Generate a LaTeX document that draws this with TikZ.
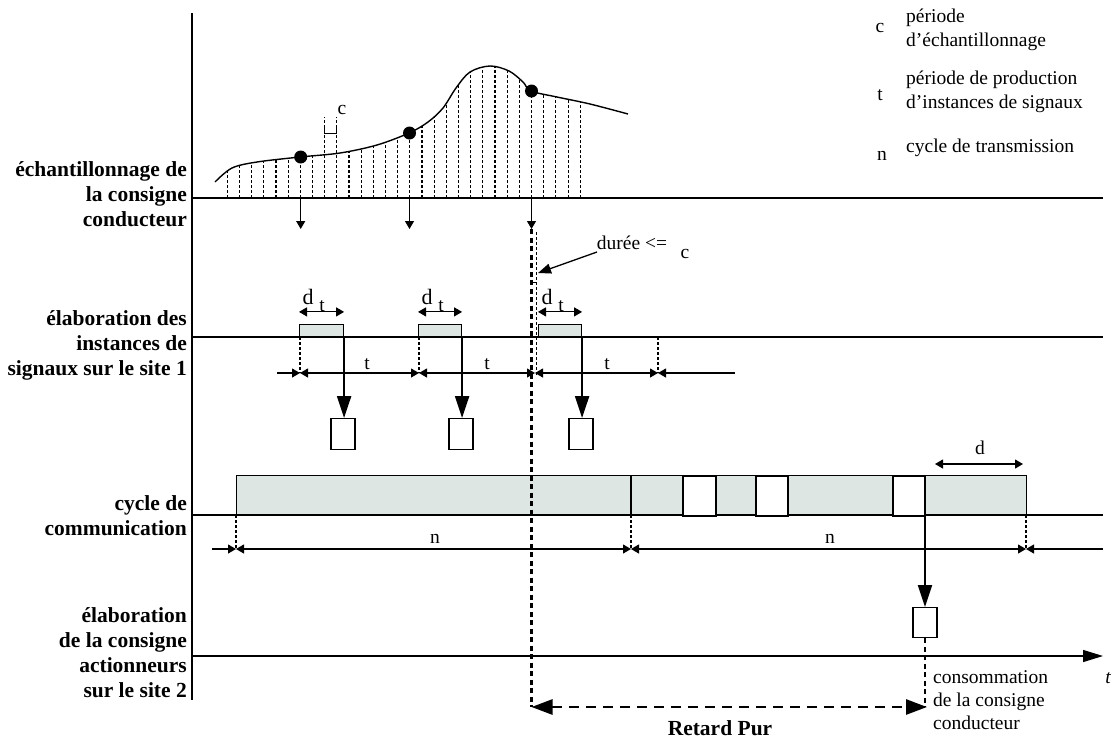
\documentclass[tikz,border=0pt]{standalone}
\usepackage{fontspec}
\setmainfont{Liberation Serif}
\usetikzlibrary{arrows.meta}
\definecolor{barfill}{RGB}{222,230,228}
\begin{document}
\begin{tikzpicture}[x=1pt,y=-1pt,
  tri/.tip={Triangle[length=8pt,width=9pt]},
  bigtri/.tip={Triangle[length=22pt,width=14pt]},
  axtri/.tip={Triangle[length=20pt,width=12pt]},
  rtri/.tip={Triangle[length=21pt,width=15pt]},
  axisln/.style={line width=1.3pt},
  dimln/.style={line width=1.1pt},
  dotln/.style={line width=1.1pt, dash pattern=on 3pt off 2pt},
  thickdash/.style={line width=2.5pt, dash pattern=on 5pt off 3.5pt},
  thickarrow/.style={line width=2.2pt, -bigtri},
  lbl/.style={font=\fontsize{21.5}{25}\selectfont\bfseries, align=right, anchor=east, inner sep=0pt},
  txt/.style={font=\fontsize{19.5}{23.5}\selectfont, inner sep=0pt},
  greybox/.style={draw=black, line width=1.1pt, fill=barfill, inner sep=0pt, anchor=south west},
  whitebox/.style={draw=black, line width=1.3pt, fill=white, inner sep=0pt},
  slotframe/.style={draw=black, line width=1.4pt, fill=white},
  dot/.style={circle, fill=black, minimum size=13pt, inner sep=0pt}
]
\useasboundingbox (0,0) rectangle (1113,740);

% axes and level lines
\draw[axisln] (192,13) -- (192,700);
\draw[axisln] (192,198) -- (1103,198);
\draw[axisln] (192,337) -- (1103,337);
\draw[axisln] (192,515) -- (1103,515);
\coordinate (tstart) at (192,656);
\coordinate (tend) at (1103,656);
\draw[axisln, -axtri] (tstart) -- (tend);
\node[txt, font=\fontsize{19.5}{23}\selectfont\itshape] (tlab) at (1108,678) {t};

% row labels
\node[lbl] (lab1) at (187,194) {échantillonnage de\\la consigne\\conducteur};
\node[lbl] (lab2) at (187,345) {élaboration des\\instances de\\signaux sur le site 1};
\node[lbl] (lab3) at (187,515.5) {cycle de\\communication};
\node[lbl] (lab4) at (187,653) {élaboration\\de la consigne\\actionneurs\\sur le site 2};

% legend
\node[txt] (lc) at (880,28) {c};
\node[txt, anchor=west, align=left] (lct) at (906,30) {période\\d'échantillonnage};
\node[txt] (lt) at (880,95) {t};
\node[txt, anchor=west, align=left] (ltt) at (906,92) {période de production\\d'instances de signaux};
\node[txt] (ln) at (882,156) {n};
\node[txt, anchor=west] (lnt) at (906,148) {cycle de transmission};

% sampled signal
\def\curvepts{(215,182) (232,168) (257,162) (300,157) (340,153) (377,145) (409,133) (428,122) (443,108) (456,88) (470,72) (490,66) (509,71) (523,82) (531,91) (557,97) (590,104) (628,114)}
\begin{scope}
  \clip plot[smooth, tension=0.55] coordinates {\curvepts} -- (628,198) -- (215,198) -- cycle;
  \foreach \k in {0,...,7,10,11,...,29}
    \draw[dotln] ({227.3+12.17*\k},198) -- ({227.3+12.17*\k},40);
\end{scope}
\draw[dotln] (324.7,198) -- (324.7,117);
\draw[dotln] (336.8,198) -- (336.8,117);
\draw[line width=1pt] (324.7,127) -- (324.7,133) -- (336.8,133) -- (336.8,127);
\node[txt] (cc) at (342,110) {c};
\draw[line width=1.4pt] plot[smooth, tension=0.55] coordinates {\curvepts};
\node[dot] (p1) at (300.7,157) {};
\node[dot] (p2) at (409.5,133) {};
\node[dot] (p3) at (531.5,91) {};
\coordinate (a1) at (300.7,229);
\coordinate (a2) at (409.5,229);
\coordinate (a3) at (531.5,229);
\draw[dimln, -tri] (p1 |- 0,198) -- (a1);
\draw[dimln, -tri] (p2 |- 0,198) -- (a2);
\draw[dimln, -tri] (p3 |- 0,198) -- (a3);

% level 2 : signal instances
\node[greybox, minimum width=44pt, minimum height=12pt] (g1) at (299,337) {};
\node[greybox, minimum width=43pt, minimum height=12pt] (g2) at (418,337) {};
\node[greybox, minimum width=43pt, minimum height=12pt] (g3) at (538,337) {};
\node[whitebox, minimum width=24pt, minimum height=31pt, anchor=north] (s1) at (343,418) {};
\node[whitebox, minimum width=24pt, minimum height=31pt, anchor=north] (s2) at (461,418) {};
\node[whitebox, minimum width=24pt, minimum height=31pt, anchor=north] (s3) at (581,418) {};
\draw[thickarrow] (g1.south east) -- (g1.south east |- s1.north);
\draw[thickarrow] (g2.south east) -- (g2.south east |- s2.north);
\draw[thickarrow] (g3.south east) -- (g3.south east |- s3.north);
\foreach \g in {g1,g2,g3}{
  \draw[dimln, tri-tri] ([yshift=12pt]\g.north west) -- ([yshift=12pt]\g.north east);
}
\node[txt, font=\fontsize{22}{23}\selectfont] (d1) at (308,297) {d};
\node[txt] (t1) at (322,306) {t};
\node[txt, font=\fontsize{22}{23}\selectfont] (d2) at (427,297) {d};
\node[txt] (t2) at (441,306) {t};
\node[txt, font=\fontsize{22}{23}\selectfont] (d3) at (547,297) {d};
\node[txt] (t3) at (561,306) {t};
% period t dimension line
\draw[dotln] (300,337) -- (300,373);
\draw[dotln] (419,337) -- (419,373);
\draw[dotln] (658,337) -- (658,373);
\draw[dotln] (536.5,232) -- (536.5,376);
\draw[dimln, -tri] (277,373) -- (300,373);
\draw[dimln, tri-tri] (300,373) -- (419,373);
\draw[dimln, tri-tri] (419,373) -- (535,373);
\draw[dimln, tri-tri] (535,373) -- (658,373);
\draw[dimln, tri-] (658,373) -- (735,373);
\node[txt] (tp1) at (367,364) {t};
\node[txt] (tp2) at (487,364) {t};
\node[txt] (tp3) at (607,364) {t};

% duree <= c
\node[txt] (dur) at (632,243) {durée <=};
\node[txt] (durc) at (685,254) {c};
\coordinate (durtip) at (538,273);
\draw[line width=1.3pt, -{Triangle[length=13pt,width=10pt]}] (597,252) -- (durtip);
\draw[line width=1pt] (531,282) -- (536,282);

% level 3 : communication cycle
\node[greybox, minimum width=790pt, minimum height=39pt] (bar) at (236,515) {};
\draw[line width=1.1pt] (631,476) -- (631,515);
\draw[slotframe] (683,476) rectangle (716,516);
\draw[slotframe] (756,476) rectangle (788,516);
\draw[slotframe] (893,476) rectangle (925,516);
\coordinate (w3out) at (925,515);
\draw[dimln, tri-tri] (935,464) -- (1023,464);
\node[txt] (dd) at (980,448) {d};
\draw[dotln] (236,515) -- (236,549);
\draw[dotln] (631,515) -- (631,549);
\draw[dotln] (1026,515) -- (1026,549);
\draw[dimln, -tri] (212,549) -- (236,549);
\draw[dimln, tri-tri] (236,549) -- (631,549);
\draw[dimln, tri-tri] (631,549) -- (1026,549);
\draw[dimln, tri-] (1026,549) -- (1103,549);
\node[txt] (n1) at (435,539) {n};
\node[txt] (n2) at (830,539) {n};

% level 4
\node[whitebox, minimum width=24pt, minimum height=30pt, anchor=north] (sb) at (925,607) {};
\draw[thickarrow] (w3out) -- (sb.north);

% pure delay
\coordinate (rl) at (531.5,707);
\coordinate (rr) at (927,707);
\draw[thickdash] (a3) -- (rl);
\draw[thickdash] (sb.south) -- (sb.south |- rr);
\draw[line width=2.7pt, dash pattern=on 10pt off 7pt, rtri-rtri] (rl) -- (rr);
\node[txt, font=\fontsize{21.5}{23}\selectfont\bfseries] (rp) at (720,728) {Retard Pur};
\node[txt, anchor=west, align=left, font=\fontsize{19.5}{23}\selectfont] (cons) at (933,700) {consommation\\de la consigne\\conducteur};
\end{tikzpicture}
\end{document}
